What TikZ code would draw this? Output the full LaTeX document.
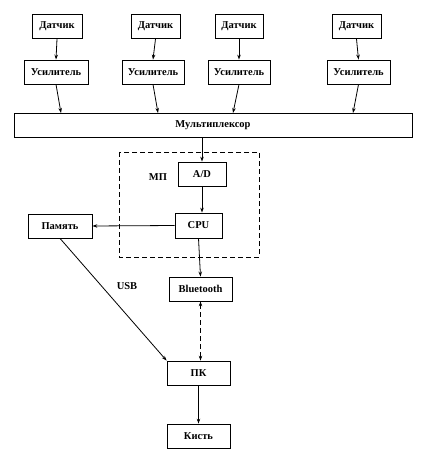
\documentclass[tikz,border=0pt]{standalone}
\usepackage{fontspec}
\setmainfont{Liberation Serif}
\usepackage{tikz}
\usetikzlibrary{arrows.meta,positioning,calc}

\begin{document}
\begin{tikzpicture}[x=1pt, y=-1pt, >={Stealth[length=5pt,width=3.5pt]},
    blok/.style={draw, thick, minimum height=24pt, inner sep=1pt, font=\fontsize{10.5}{12}\selectfont\bfseries},
    lbl/.style={font=\fontsize{10.5}{12}\selectfont\bfseries},
    shtrih/.style={dash pattern=on 5pt off 3pt}]
  \useasboundingbox (0,0) rectangle (421,454);
  % datchiki
  \node[blok, minimum width=50pt] (d1) at (57,26.5) {Датчик};
  \node[blok, minimum width=49pt] (d2) at (155.5,26.5) {Датчик};
  \node[blok, minimum width=48pt] (d3) at (239,26.5) {Датчик};
  \node[blok, minimum width=49pt] (d4) at (356.5,26.5) {Датчик};
  % usiliteli
  \node[blok, minimum width=64pt] (u1) at (56,72) {Усилитель};
  \node[blok, minimum width=62pt] (u2) at (153,72) {Усилитель};
  \node[blok, minimum width=62pt] (u3) at (239,72) {Усилитель};
  \node[blok, minimum width=63pt] (u4) at (358.5,72) {Усилитель};
  \node[blok, minimum width=398pt] (mux) at (213,125) {Мультиплексор};
  % MP
  \node[blok, minimum width=48pt] (ad) at (202,174) {A/D};
  \node[blok, minimum width=47pt, minimum height=25pt] (cpu) at (198.5,225.5) {CPU};
  \draw[thick, shtrih] (119,152) rectangle (259,257);
  \node[lbl] (mp) at (158,177) {МП};
  \node[blok, minimum width=64pt] (mem) at (60,226) {Память};
  \node[blok, minimum width=63pt] (bt) at (200.5,289) {Bluetooth};
  \node[lbl] (usb) at (127,286) {USB};
  \node[blok, minimum width=63pt] (pc) at (198.5,373) {ПК};
  \node[blok, minimum width=63pt] (hand) at (198.5,436) {Кисть};
  % vkhody multipleksora
  \coordinate (m1) at (61,113);
  \coordinate (m2) at (158,113);
  \coordinate (m3) at (233,113);
  \coordinate (m4) at (353,113);
  \foreach \i in {1,...,4} {
    \draw[thick, ->] (d\i.south) -- (u\i.north);
    \draw[thick, ->] (u\i.south) -- (m\i);
  }
  \draw[thick, ->] (ad.north |- mux.south) -- (ad.north);
  \draw[thick, ->] (ad.south) -- (ad.south |- cpu.north);
  \draw[thick, ->] (cpu.west) -- (mem.east);
  \draw[thick, ->] (cpu.south) -- (bt.north);
  \draw[thick, shtrih, <->] (bt.south) -- (bt.south |- pc.north);
  \draw[thick, ->] (mem.south) -- (pc.north west);
  \draw[thick, ->] (pc.south) -- (hand.north);
\end{tikzpicture}
\end{document}
